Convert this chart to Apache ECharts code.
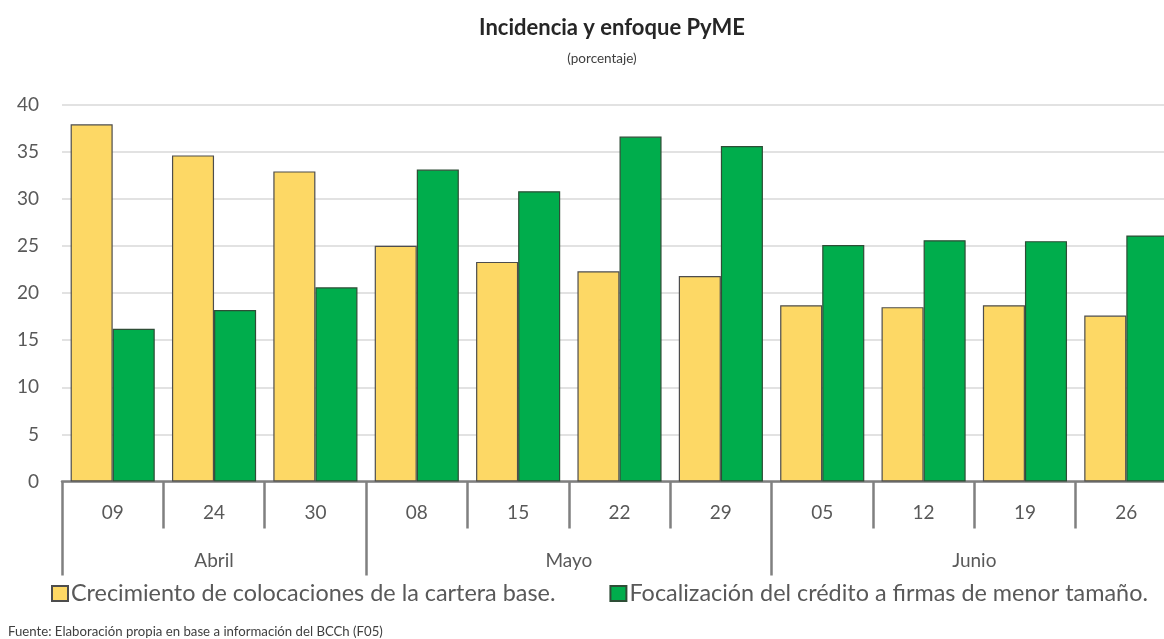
<!DOCTYPE html>
<html>
<head>
<meta charset="utf-8">
<script src="https://cdn.jsdelivr.net/npm/echarts@6/dist/echarts.min.js"></script>
<style>
html,body{margin:0;padding:0;background:#fff;}
#chart{width:1164px;height:639px;}
</style>
</head>
<body>
<div id="chart"></div>
<script>
const days = ['09','24','30','08','15','22','29','05','12','19','26'];
const months = ['Abril','Mayo','Junio'];
const monthBounds = [0, 3, 7, 11];
const monthCenters = [1.5, 5, 9];
const crecimiento = [37.9, 34.6, 32.9, 25.0, 23.3, 22.3, 21.8, 18.7, 18.5, 18.7, 17.6];
const focalizacion = [16.2, 18.2, 20.6, 33.1, 30.8, 36.6, 35.6, 25.1, 25.6, 25.5, 26.1];
const yTicks = [0, 5, 10, 15, 20, 25, 30, 35, 40];
const seriesNames = ['Crecimiento de colocaciones de la cartera base.', 'Focalización del crédito a firmas de menor tamaño.'];

const FONT = 'Lato, "Open Sans", sans-serif';
const TXT = '#595959';

const chart = echarts.init(document.getElementById('chart'), null, {renderer: 'canvas'});
chart.setOption({
  animation: false,
  backgroundColor: '#ffffff',
  textStyle: {fontFamily: FONT},
  title: [
    {text: 'Incidencia y enfoque PyME', left: 612, top: 17, textAlign: 'center', padding: 0,
     textStyle: {fontFamily: FONT, fontSize: 22, fontWeight: 'bold', color: '#262626'}},
    {text: '(porcentaje)', left: 602, top: 52, textAlign: 'center', padding: 0,
     textStyle: {fontFamily: FONT, fontSize: 13.5, fontWeight: 'normal', color: '#404040'}},
    {text: 'Fuente: Elaboración propia en base a información del BCCh (F05)', left: 8, top: 625, padding: 0,
     textStyle: {fontFamily: FONT, fontSize: 13.2, fontWeight: 'normal', color: '#404040'}}
  ],
  legend: {
    left: 51, top: 582, padding: 0,
    itemWidth: 16, itemHeight: 15, itemGap: 54,
    icon: 'rect',
    textStyle: {fontFamily: FONT, fontSize: 23.4, color: TXT, padding: [0, 0, 0, -2]},
    data: seriesNames
  },
  grid: {left: 62, top: 104.5, width: 1115, height: 377, containLabel: false, outerBoundsMode: 'none'},
  xAxis: [
    {
      type: 'category', data: days, position: 'bottom',
      axisLine: {show: true, lineStyle: {color: '#808080', width: 2.5}},
      axisTick: {show: true, length: 47, lineStyle: {color: '#808080', width: 2.5}},
      axisLabel: {margin: 22, fontFamily: FONT, fontSize: 19, color: TXT},
      splitLine: {show: false}
    },
    {
      type: 'value', position: 'bottom', min: 0, max: 11, offset: 0,
      axisLine: {show: false},
      axisTick: {show: true, length: 94, customValues: monthBounds, lineStyle: {color: '#808080', width: 2.5}},
      axisLabel: {margin: 70, fontFamily: FONT, fontSize: 19, color: TXT, customValues: monthCenters,
        formatter: function (v) { const i = monthCenters.indexOf(v); return i >= 0 ? months[i] : ''; }},
      splitLine: {show: false}
    }
  ],
  yAxis: {
    type: 'value', min: 0, max: 40, interval: 5,
    axisLine: {show: false}, axisTick: {show: false},
    axisLabel: {margin: 23, fontFamily: FONT, fontSize: 19, color: TXT},
    splitLine: {show: true, lineStyle: {color: '#d9d9d9', width: 1.5}}
  },
  series: [
    {name: seriesNames[0], type: 'bar', xAxisIndex: 0, data: crecimiento,
     barGap: '0%', barCategoryGap: '17%',
     itemStyle: {color: '#FDD865', borderColor: '#4d4d4d', borderWidth: 1.2}},
    {name: seriesNames[1], type: 'bar', xAxisIndex: 0, data: focalizacion,
     barGap: '0%', barCategoryGap: '17%',
     itemStyle: {color: '#00AD4C', borderColor: '#2e4d36', borderWidth: 1.2}}
  ]
});
</script>
</body>
</html>
